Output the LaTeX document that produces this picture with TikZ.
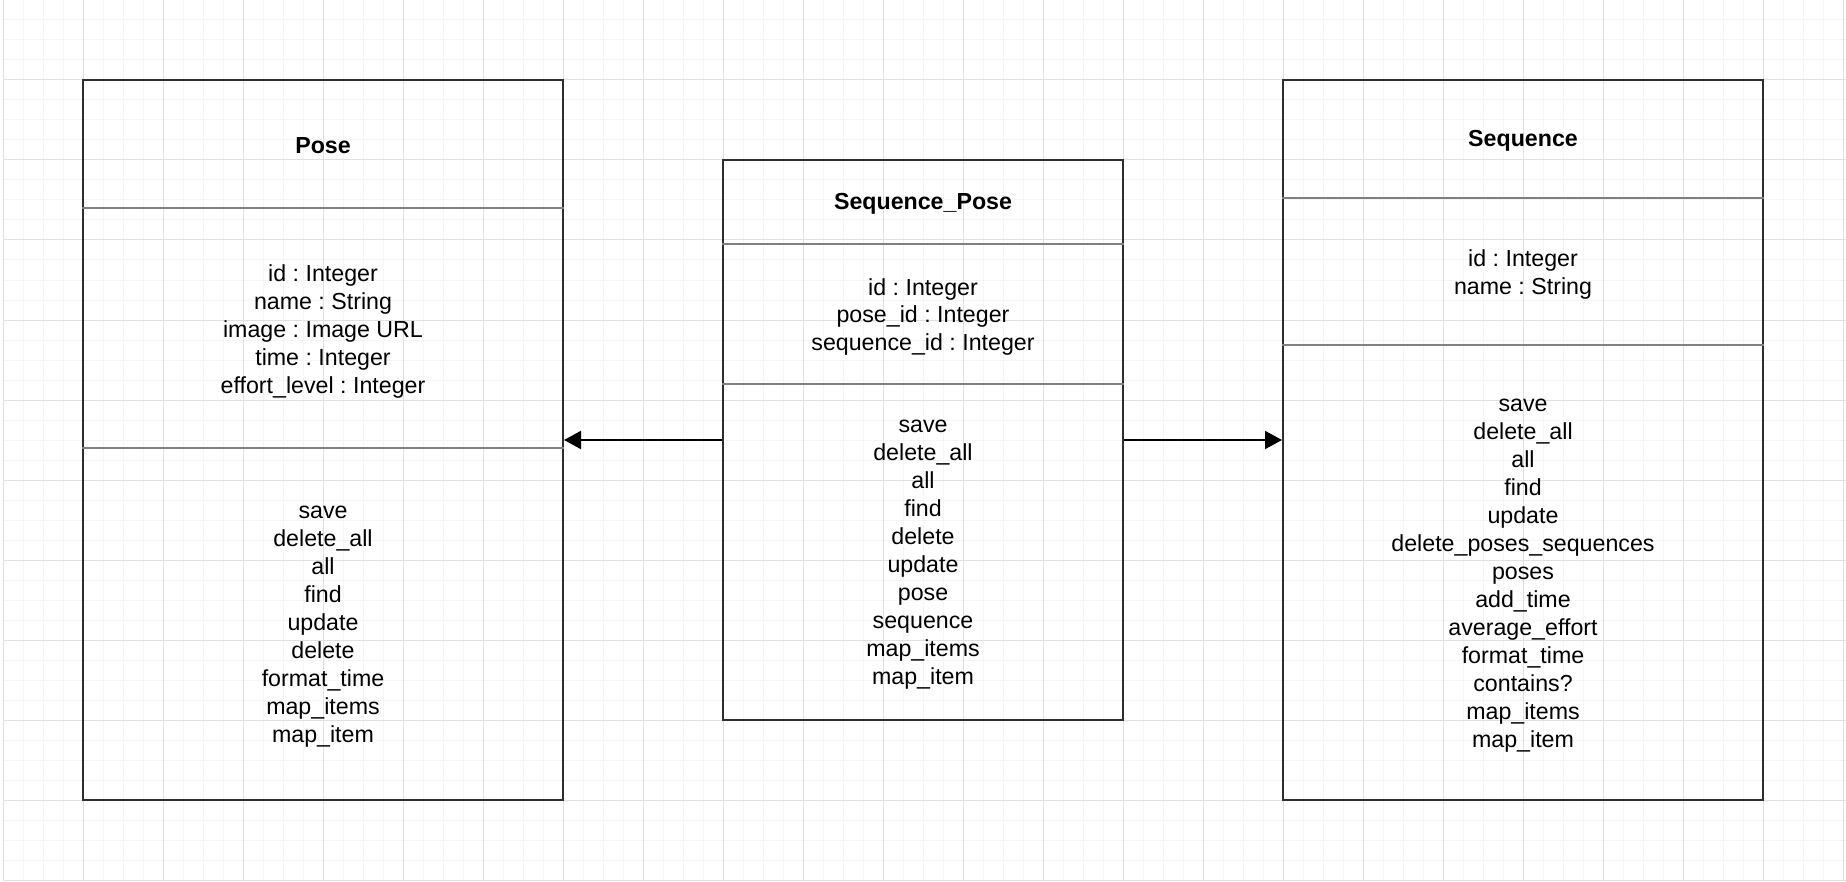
\documentclass[tikz,border=0pt]{standalone}
\usepackage{fontspec}
\setmainfont{Liberation Sans}
\usepackage{tikz}
\usetikzlibrary{arrows.meta}
\frenchspacing
\tikzset{
  gridminor/.style={line width=0.5pt, draw=black!4},
  gridmajor/.style={line width=0.5pt, draw=black!12},
  classbox/.style={draw=black!82, line width=1pt, inner sep=0pt},
  classsep/.style={draw=black!50, line width=1pt},
  classtitle/.style={font=\fontsize{11.6}{14}\selectfont\bfseries, align=center, yshift=-1pt},
  classtext/.style={font=\fontsize{11.6}{14}\selectfont, align=center, yshift=-1.5pt},
  assoc/.style={line width=1pt, draw=black, -{Triangle[length=8.5pt, width=9pt]}},
}
\begin{document}
\begin{tikzpicture}[x=0.5pt, y=-0.5pt]
\fill[white] (0,0) rectangle (1846,882);
\useasboundingbox (0,0) rectangle (1846,882);
\foreach \gx in {3,23,...,1843} \draw[gridminor] (\gx,0) -- (\gx,880);
\foreach \gy in {0,20,...,880} \draw[gridminor] (3,\gy) -- (1846,\gy);
\foreach \gx in {3,83,...,1843} \draw[gridmajor] (\gx,0) -- (\gx,880);
\foreach \gy in {0,80,...,880} \draw[gridmajor] (3,\gy) -- (1846,\gy);
\node[classbox, minimum width=240pt, minimum height=360pt] (pose) at (323,440) {};
\node[classbox, minimum width=200pt, minimum height=280pt] (seqpose) at (923,440) {};
\node[classbox, minimum width=240pt, minimum height=360pt] (seq) at (1523,440) {};
\draw[classsep] (pose.west |- 0,208) -- (pose.east |- 0,208);
\draw[classsep] (pose.west |- 0,448) -- (pose.east |- 0,448);
\draw[classsep] (seqpose.west |- 0,244) -- (seqpose.east |- 0,244);
\draw[classsep] (seqpose.west |- 0,384) -- (seqpose.east |- 0,384);
\draw[classsep] (seq.west |- 0,198) -- (seq.east |- 0,198);
\draw[classsep] (seq.west |- 0,345) -- (seq.east |- 0,345);
\node[classtitle] (posetitle) at (323,144) {Pose};
\node[classtext] (poseattr) at (323,328) {id : Integer\\name : String\\image : Image URL\\time : Integer\\effort\_level : Integer};
\node[classtext] (poseops) at (323,624) {save\\delete\_all\\all\\find\\update\\delete\\format\_time\\map\_items\\map\_item};
\node[classtitle] (seqposetitle) at (923,202) {Sequence\_Pose};
\node[classtext] (seqposeattr) at (923,314) {id : Integer\\pose\_id : Integer\\sequence\_id : Integer};
\node[classtext] (seqposeops) at (923,552) {save\\delete\_all\\all\\find\\delete\\update\\pose\\sequence\\map\_items\\map\_item};
\node[classtitle] (seqtitle) at (1523,139) {Sequence};
\node[classtext] (seqattr) at (1523,271.5) {id : Integer\\name : String};
\node[classtext] (seqops) at (1523,572.5) {save\\delete\_all\\all\\find\\update\\delete\_poses\_sequences\\poses\\add\_time\\average\_effort\\format\_time\\contains?\\map\_items\\map\_item};
\draw[assoc] (seqpose.west) -- (pose.east);
\draw[assoc] (seqpose.east) -- (seq.west);
\end{tikzpicture}
\end{document}
